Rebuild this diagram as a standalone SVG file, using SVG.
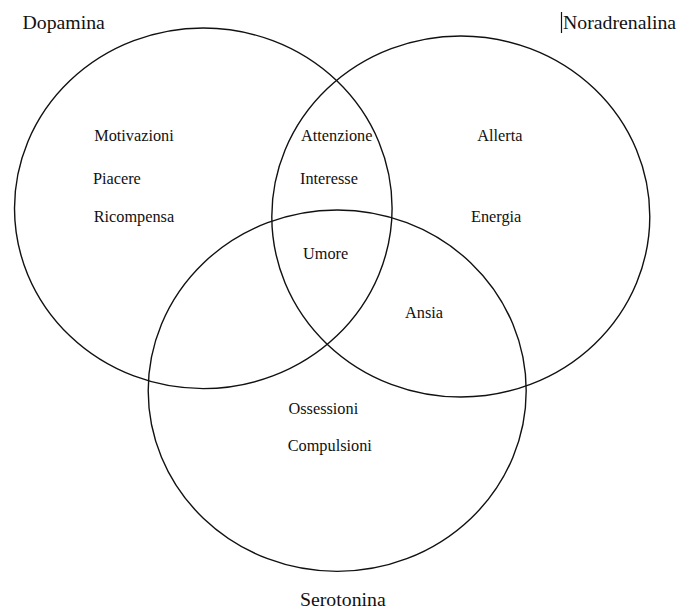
<svg xmlns="http://www.w3.org/2000/svg" width="677" height="609" viewBox="0 0 677 609">
<style>
.set{fill:none;stroke:#111;stroke-width:1.4}
.t{font-family:"Liberation Serif","Times New Roman",serif;fill:#111}
.title{font-size:19.8px}
.item{font-size:16.3px}
</style>
<rect width="677" height="609" fill="#fff"/>
<g id="dopamina">
<ellipse class="set" cx="203.3" cy="208.3" rx="188.8" ry="180.3"/>
<text class="t title" x="22.5" y="29">Dopamina</text>
<text class="t item" x="94.2" y="141">Motivazioni</text>
<text class="t item" x="92.9" y="184">Piacere</text>
<text class="t item" x="93.7" y="222">Ricompensa</text>
</g>
<g id="noradrenalina">
<ellipse class="set" cx="460.8" cy="216.5" rx="189" ry="180.5"/>
<line x1="561.5" y1="12" x2="561.5" y2="33" stroke="#111" stroke-width="1.2"/>
<text class="t title" x="563" y="29">Noradrenalina</text>
<text class="t item" x="477.3" y="141">Allerta</text>
<text class="t item" x="471" y="222">Energia</text>
</g>
<g id="serotonina">
<ellipse class="set" cx="337.2" cy="390.7" rx="189" ry="180.7"/>
<text class="t title" x="300" y="606">Serotonina</text>
<text class="t item" x="288.5" y="414">Ossessioni</text>
<text class="t item" x="287.7" y="451">Compulsioni</text>
</g>
<g id="dopamina-noradrenalina">
<text class="t item" x="301" y="141">Attenzione</text>
<text class="t item" x="300" y="184">Interesse</text>
</g>
<g id="tutti">
<text class="t item" x="303" y="259">Umore</text>
</g>
<g id="noradrenalina-serotonina">
<text class="t item" x="405" y="317.5">Ansia</text>
</g>
<g id="connectors"></g>
</svg>
